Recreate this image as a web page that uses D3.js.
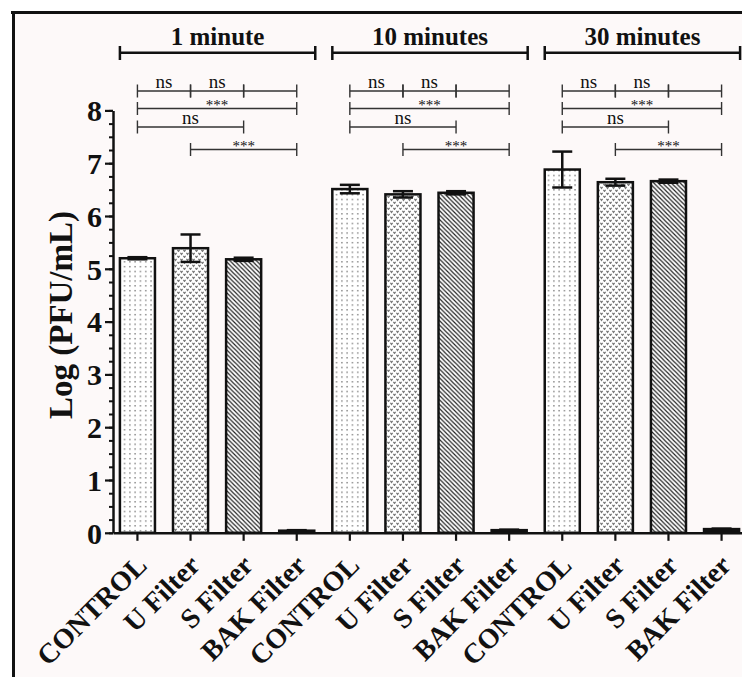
<!DOCTYPE html>
<html>
<head>
<meta charset="utf-8">
<script src="https://cdn.jsdelivr.net/npm/d3@7"></script>
<style>
  body { margin: 0; background: #fff; }
  svg { display: block; }
  text { font-family: "Liberation Serif", "Times New Roman", serif; fill: #111; }
</style>
</head>
<body>
<div id="chart"></div>
<script>
// time points and treatments
const groups = ['1 minute', '10 minutes', '30 minutes']
const treatments = ['CONTROL', 'U Filter', 'S Filter', 'BAK Filter']

// mean Log(PFU/mL) and error (SD) per time point, in treatment order
const means1 = [5.20, 5.39, 5.18, 0.04]
const errs1 = [0.02, 0.26, 0.03, 0.01]
const means10 = [6.51, 6.41, 6.44, 0.05]
const errs10 = [0.08, 0.06, 0.03, 0.01]
const means30 = [6.88, 6.64, 6.66, 0.07]
const errs30 = [0.34, 0.065, 0.03, 0.01]

const yTicks = [0, 1, 2, 3, 4, 5, 6, 7, 8]

// significance brackets inside each group: [from, to, label, row]
const comparisons = [
  [0, 1, 'ns', 0],
  [1, 2, 'ns', 0],
  [2, 3, '', 0],
  [0, 3, '***', 1],
  [0, 2, 'ns', 2],
  [1, 3, '***', 3]
]

const width = 742
const height = 677
const rowY = [91, 108.5, 127, 149.5]

const allMeans = [means1, means10, means30]
const allErrs = [errs1, errs10, errs30]
const data = []
groups.forEach((g, gi) => {
  treatments.forEach((t, ti) => {
    data.push({ group: gi, treat: ti, name: t, mean: allMeans[gi][ti], err: allErrs[gi][ti] })
  })
})

const svg = d3.select('#chart').append('svg')
  .attr('width', width)
  .attr('height', height)

// patterns for the four treatments
const defs = svg.append('defs')
const pDots = defs.append('pattern').attr('id', 'p0')
  .attr('patternUnits', 'userSpaceOnUse').attr('width', 5.3).attr('height', 4.8)
pDots.append('rect').attr('width', 5.3).attr('height', 4.8).attr('fill', '#fff')
pDots.append('rect').attr('x', 2).attr('y', 2).attr('width', 1.3).attr('height', 1.3).attr('fill', '#666')

const pV = defs.append('pattern').attr('id', 'p1')
  .attr('patternUnits', 'userSpaceOnUse').attr('width', 6).attr('height', 6)
pV.append('rect').attr('width', 6).attr('height', 6).attr('fill', '#fff')
pV.append('path').attr('d', 'M0.4,0.8 L1.5,2.4 L2.6,0.8 M3.4,3.8 L4.5,5.4 L5.6,3.8')
  .attr('stroke', '#777').attr('stroke-width', 1.2).attr('fill', 'none')

const pHatch = defs.append('pattern').attr('id', 'p2')
  .attr('patternUnits', 'userSpaceOnUse').attr('width', 4.4).attr('height', 4.4)
pHatch.append('rect').attr('width', 4.4).attr('height', 4.4).attr('fill', '#fff')
pHatch.append('path').attr('d', 'M-1,-1 L5.4,5.4 M-1,3.4 L1,5.4 M3.4,-1 L5.4,1')
  .attr('stroke', '#222').attr('stroke-width', 1.2)

const fills = ['url(#p0)', 'url(#p1)', 'url(#p2)', '#111']

// frame + background
svg.append('rect').attr('x', 12).attr('y', 11).attr('width', width - 12).attr('height', height - 11)
  .attr('fill', '#fdf9f9')
svg.append('line').attr('x1', 11).attr('x2', width).attr('y1', 12.5).attr('y2', 12.5)
  .attr('stroke', '#111').attr('stroke-width', 3)
svg.append('line').attr('x1', 13.5).attr('x2', 13.5).attr('y1', 11).attr('y2', height)
  .attr('stroke', '#111').attr('stroke-width', 3)

const x = d3.scaleBand()
  .domain(d3.range(data.length))
  .range([113, 746])
  .paddingInner(0.34)
  .paddingOuter(0.13)

const y = d3.scaleLinear().domain([0, 8]).range([532.8, 110.4])

// y axis: minor ticks every 0.25, major every 1
svg.append('g')
  .attr('transform', 'translate(113,0)')
  .call(d3.axisLeft(y).tickValues(d3.range(0, 8.01, 0.25)).tickSize(4).tickFormat(''))
  .call(g => g.select('.domain').remove())
  .call(g => g.selectAll('.tick line').attr('stroke', '#111').attr('stroke-width', 2))

svg.append('g')
  .attr('transform', 'translate(113,0)')
  .call(d3.axisLeft(y).tickValues(yTicks).tickSize(8).tickSizeOuter(0).tickPadding(3).tickFormat(d3.format('d')))
  .call(g => g.select('.domain').attr('stroke', '#111').attr('stroke-width', 2.5))
  .call(g => g.selectAll('.tick line').attr('stroke', '#111').attr('stroke-width', 2.2))
  .call(g => g.selectAll('.tick text')
    .attr('font-size', 30).attr('font-weight', 'bold').attr('dy', '0.34em')
    .style('font-family', '"Liberation Serif", "Times New Roman", serif').attr('fill', '#111'))

svg.append('text')
  .attr('transform', 'translate(72,315) rotate(-90)')
  .attr('text-anchor', 'middle')
  .attr('font-size', 33)
  .attr('font-weight', 'bold')
  .text('Log (PFU/mL)')

// bars
const bars = svg.append('g')
bars.selectAll('rect')
  .data(data)
  .join('rect')
  .attr('x', (d, i) => x(i))
  .attr('width', x.bandwidth())
  .attr('y', d => y(d.mean))
  .attr('height', d => y(0) - y(d.mean))
  .attr('fill', d => fills[d.treat])
  .attr('stroke', '#111')
  .attr('stroke-width', 2.5)

// error bars
const capW = 10
const eb = svg.append('g').attr('stroke', '#111').attr('stroke-width', 2.5)
data.forEach((d, i) => {
  const cx = x(i) + x.bandwidth() / 2
  const hi = y(d.mean + d.err)
  const lo = y(d.mean - d.err)
  eb.append('line').attr('x1', cx).attr('x2', cx).attr('y1', hi).attr('y2', lo)
  eb.append('line').attr('x1', cx - capW).attr('x2', cx + capW).attr('y1', hi).attr('y2', hi)
  eb.append('line').attr('x1', cx - capW).attr('x2', cx + capW).attr('y1', lo).attr('y2', lo)
})

// x axis
svg.append('g')
  .attr('transform', `translate(0,${y(0)})`)
  .call(d3.axisBottom(x).tickSize(8).tickSizeOuter(0).tickFormat(''))
  .call(g => g.select('.domain').attr('stroke', '#111').attr('stroke-width', 2.5))
  .call(g => g.selectAll('.tick line').attr('stroke', '#111').attr('stroke-width', 2.2))

svg.append('g')
  .selectAll('text')
  .data(data)
  .join('text')
  .attr('transform', (d, i) => `translate(${x(i) + x.bandwidth() / 2 + 11},567) rotate(-45)`)
  .attr('text-anchor', 'end')
  .attr('font-size', 28)
  .attr('font-weight', 'bold')
  .text(d => d.name)

// group brackets + titles
groups.forEach((g, gi) => {
  const first = gi * treatments.length
  const last = first + treatments.length - 1
  const x0 = x(first)
  const x1 = x(last) + x.bandwidth() + 1
  const gg = svg.append('g').attr('stroke', '#111').attr('stroke-width', 2.5)
  gg.append('line').attr('x1', x0).attr('x2', x1).attr('y1', 52.7).attr('y2', 52.7)
  gg.append('line').attr('x1', x0).attr('x2', x0).attr('y1', 46).attr('y2', 60)
  gg.append('line').attr('x1', x1).attr('x2', x1).attr('y1', 46).attr('y2', 60)
  svg.append('text')
    .attr('x', (x0 + x1) / 2)
    .attr('y', 45)
    .attr('text-anchor', 'middle')
    .attr('font-size', 25)
    .attr('font-weight', 'bold')
    .text(g)

  // significance lines
  const sig = svg.append('g')
  comparisons.forEach(c => {
    const a = x(first + c[0]) + x.bandwidth() / 2
    const b = x(first + c[1]) + x.bandwidth() / 2
    const yy = rowY[c[3]]
    sig.append('line').attr('x1', a).attr('x2', b).attr('y1', yy).attr('y2', yy)
      .attr('stroke', '#333').attr('stroke-width', 1.4)
    ;[a, b].forEach(p => {
      sig.append('line').attr('x1', p).attr('x2', p).attr('y1', yy - 6.5).attr('y2', yy + 6.5)
        .attr('stroke', '#333').attr('stroke-width', 1.4)
    })
    if (c[2] === 'ns') {
      sig.append('text').attr('x', (a + b) / 2).attr('y', yy - 3)
        .attr('text-anchor', 'middle').attr('font-size', 19).attr('fill', '#222')
        .text(c[2])
    } else if (c[2]) {
      sig.append('text').attr('x', (a + b) / 2).attr('y', yy + 1)
        .attr('text-anchor', 'middle').attr('font-size', 15).attr('fill', '#222')
        .text(c[2])
    }
  })
})
</script>
</body>
</html>
